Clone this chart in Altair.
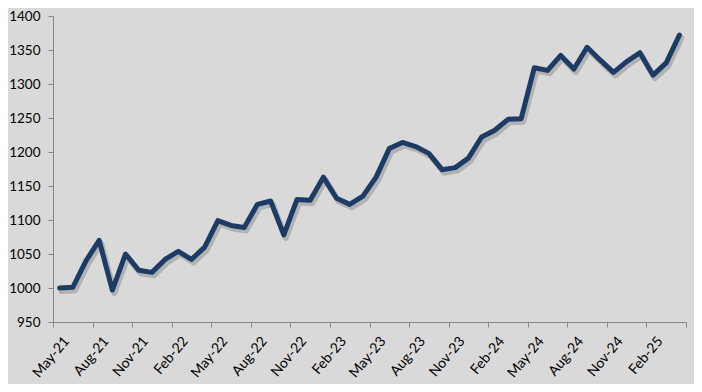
import json
import altair as alt
import pandas as pd

months = [
    "May-21", "Jun-21", "Jul-21", "Aug-21", "Sep-21", "Oct-21", "Nov-21", "Dec-21",
    "Jan-22", "Feb-22", "Mar-22", "Apr-22", "May-22", "Jun-22", "Jul-22", "Aug-22",
    "Sep-22", "Oct-22", "Nov-22", "Dec-22", "Jan-23", "Feb-23", "Mar-23", "Apr-23",
    "May-23", "Jun-23", "Jul-23", "Aug-23", "Sep-23", "Oct-23", "Nov-23", "Dec-23",
    "Jan-24", "Feb-24", "Mar-24", "Apr-24", "May-24", "Jun-24", "Jul-24", "Aug-24",
    "Sep-24", "Oct-24", "Nov-24", "Dec-24", "Jan-25", "Feb-25", "Mar-25", "Apr-25",
]
values = [
    1000, 1001, 1040, 1070, 997, 1050, 1026, 1023, 1042, 1054, 1042, 1060,
    1099, 1092, 1089, 1123, 1128, 1078, 1130, 1129, 1163, 1132, 1123, 1135,
    1163, 1205, 1214, 1208, 1198, 1174, 1177, 1191, 1222, 1232, 1248, 1249,
    1324, 1320, 1342, 1322, 1354, 1335, 1317, 1333, 1346, 1313, 1331, 1372,
]
tick_labels = months[::3]          # May-21, Aug-21, ... Feb-25
y_ticks = list(range(950, 1401, 50))

df = pd.DataFrame({
    "month": months,
    "pos": [i + 0.5 for i in range(len(months))],
    "value": values,
})

n = len(months)
tick_positions = list(range(0, n + 1, 3))
label_expr = (
    "datum.value < " + str(n) + " ? " + json.dumps(tick_labels)
    + "[datum.value / 3] : ''"
)

x_enc = alt.X(
    "pos:Q",
    scale=alt.Scale(domain=[0, n], nice=False, zero=False),
    axis=alt.Axis(
        values=tick_positions,
        labelExpr=label_expr,
        labelAngle=-50,
        labelAlign="right",
        labelBaseline="top",
        labelPadding=7,
        labelOffset=8,
        labelOverlap=False,
        labelFlush=False,
        labelFontSize=14,
        grid=False,
        title=None,
        tickSize=5,
    ),
)
y_enc = alt.Y(
    "value:Q",
    scale=alt.Scale(domain=[950, 1400], nice=False, zero=False),
    axis=alt.Axis(values=y_ticks, format="d", grid=False, title=None,
                  tickSize=5, labelPadding=8, labelFontSize=13.5),
)

shadow = alt.Chart(df).mark_line(
    color="#000000", opacity=0.18, strokeWidth=6, xOffset=2, yOffset=3,
    strokeJoin="round", strokeCap="round",
).encode(x=x_enc, y=y_enc)

line = alt.Chart(df).mark_line(
    color="#1c3b65", strokeWidth=5, strokeJoin="round", strokeCap="round",
).encode(x=x_enc, y=y_enc, tooltip=["month", "value"])

chart = alt.layer(shadow, line).properties(
    width=633,
    height=306,
    autosize=alt.AutoSizeParams(type="none"),
    padding={"left": 45, "top": 8, "right": 8, "bottom": 62},
    background="#d9d9d9",
).configure_view(
    stroke=None,
).configure_axis(
    domainColor="#868686",
    tickColor="#868686",
    labelColor="#000000",
    labelFont="Lato",
)

chart.save("out.html", embed_options={"renderer": "svg", "actions": False})
